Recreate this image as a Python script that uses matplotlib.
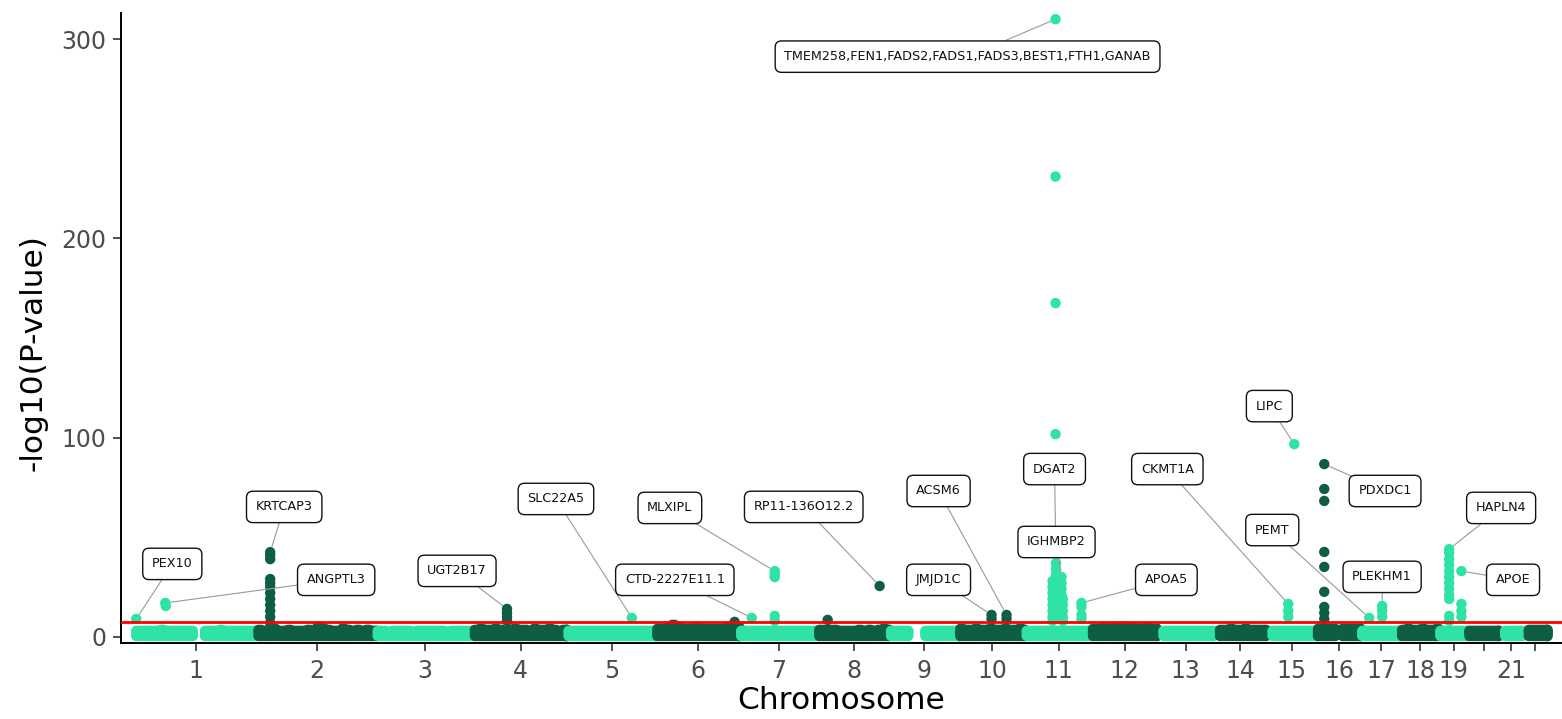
import numpy as np
import matplotlib
matplotlib.use("Agg")
import matplotlib.pyplot as plt

# ---------------- data ----------------
chrom_names = [str(i) for i in range(1, 23)]
chrom_len_mb = [249.25, 243.20, 198.02, 191.15, 180.92, 171.12, 159.14, 146.36,
                141.21, 135.53, 135.01, 133.85, 115.17, 107.35, 102.53, 90.35,
                81.20, 78.08, 59.13, 63.03, 48.13, 51.30]
tick_labels = ['1', '2', '3', '4', '5', '6', '7', '8', '9', '10', '11', '12',
               '13', '14', '15', '16', '17', '18', '19', '', '21', '']

# background: highest -log10(P) in successive 10 Mb bins of each chromosome (0 = no SNPs)
bg_top = [
    [3, 3, 3, 3, 3, 3.5, 3, 3, 3, 3, 3, 3, 0, 0, 3, 3, 3, 3.5, 3, 3, 3, 3, 3, 3, 3],
    [3.5, 3, 3.5, 4, 3, 3, 3.5, 3, 3, 3, 3.5, 3, 5, 4, 3.5, 3, 3, 4, 3.5, 3, 3.5, 3, 3.5, 3, 3],
    [3, 3, 2.5, 3, 3, 3, 3, 2.5, 3, 3, 3, 3, 3, 3, 2.5, 3, 3, 3, 3, 3],
    [3.5, 4, 3.5, 3.5, 4, 3.5, 3, 3.5, 4, 3.5, 3.5, 3, 4, 3.5, 3.5, 4, 3.5, 3, 3.5, 3.5],
    [3, 3, 3, 3, 3, 3, 3, 3, 3, 3, 3, 3, 3, 3, 3, 3, 3, 3, 3],
    [4, 4, 5, 6, 5, 4, 4, 4, 4.5, 4, 4, 4, 4, 4, 4.5, 4, 5, 4.5],
    [3, 3, 3, 3, 3, 3, 3, 3, 3, 3, 3, 3, 3, 3, 3, 3],
    [3.5, 3.5, 3.5, 3.5, 3, 3, 3, 3, 3.5, 3, 3.5, 3, 3.5, 4, 3.5],
    [3, 3, 3, 3, 0, 0, 0, 3, 3, 3, 3, 3, 3, 3, 3],
    [4, 3.5, 3.5, 4, 3.5, 3.5, 4, 3.5, 3.5, 4, 3.5, 3.5, 4, 3.5],
    [3, 3, 3, 3, 3, 3, 3, 3, 3, 3, 3, 3, 3, 3],
    [4, 4, 4.5, 4, 4.5, 5, 5, 4, 4.5, 4, 4, 4.5, 4, 4],
    [0, 3, 3, 3, 3, 3, 3, 3, 3, 3, 3, 3],
    [0, 3.5, 3.5, 4, 3.5, 3.5, 4, 3.5, 3.5, 3.5, 3.5],
    [0, 3, 3, 3, 3, 3, 3, 3, 3, 3, 3],
    [4, 4, 4, 4, 0, 4, 4, 4, 4, 4],
    [3, 3, 3, 3, 3, 3, 3, 3, 3],
    [3.5, 4, 3.5, 3.5, 4, 3.5, 3.5, 4],
    [3, 3, 3, 3, 3, 3],
    [3, 3, 3, 3, 3, 3, 3],
    [0, 3, 3, 3, 3],
    [0, 3.5, 3.5, 3.5, 3.5, 3.5],
]
bg_levels = [0.4, 1.5, 2.6]
bg_offsets = [2.5, 7.5]

# significant SNPs: chromosome, position (Mb), -log10(P)
sig_chr = ([1, 1, 1] +
           [2] * 12 +
           [4] * 4 +
           [5] +
           [6] +
           [7] * 6 +
           [8] * 2 +
           [10] * 4 +
           [11] * 4 + [11] * 3 + [11] * 4 + [11] * 8 + [11] * 5 + [11] * 5 + [11] * 4 +
           [15] * 4 +
           [16] * 9 +
           [17] * 4 +
           [19] * 12 + [19] * 4)
sig_pos = ([2.3, 61.5, 62.5] +
           [26.2] * 12 +
           [67.9] * 4 +
           [131.4] +
           [160.0] +
           [23.9, 70.7, 70.7, 70.7, 70.7, 70.7] +
           [19.5, 125.5] +
           [66.1, 66.1, 96.7, 96.7] +
           [61.1] * 4 + [62.0] * 3 + [73.3] * 4 + [55.0] * 8 + [66.0] * 5 + [76.0] * 5 +
           [114.0] * 4 +
           [44.3, 44.3, 44.3, 56.6] +
           [15.2] * 9 +
           [16.5, 43.0, 43.0, 43.0] +
           [20.3] * 12 + [45.3] * 4)
sig_val = ([9.0, 17.0, 15.5] +
           [42.5, 41, 39, 29, 27, 25, 22, 19, 16, 13, 10, 7] +
           [14, 12, 10, 8] +
           [9.5] +
           [7.5] +
           [9.5, 33, 31.5, 30, 10.5, 8] +
           [8.5, 25.5] +
           [11, 9, 11, 9] +
           [310, 231, 167.5, 101.7] + [37, 34, 31] + [30, 27, 24, 21] +
           [28, 25, 22, 19, 16, 13, 10, 8] + [26, 22, 18, 14, 10] + [19, 16, 13, 10, 8] +
           [17, 15, 11, 9] +
           [16.5, 13, 10, 96.7] +
           [86.7, 74.2, 68.2, 42.6, 35.1, 22.6, 15, 12, 9] +
           [9.5, 15.5, 13, 10] +
           [44, 42, 39, 36, 33, 30, 27, 24, 21, 19, 10.5, 8] + [33, 16.5, 13, 10])

# gene labels and the SNP (chromosome, Mb, -log10 P) they point to
lab_text = ["PEX10", "ANGPTL3", "KRTCAP3", "UGT2B17", "SLC22A5", "CTD-2227E11.1",
            "MLXIPL", "RP11-136O12.2", "JMJD1C", "ACSM6",
            "TMEM258,FEN1,FADS2,FADS1,FADS3,BEST1,FTH1,GANAB",
            "DGAT2", "IGHMBP2", "APOA5", "CKMT1A", "LIPC", "PDXDC1", "PEMT",
            "PLEKHM1", "HAPLN4", "APOE"]
lab_chr = [1, 1, 2, 4, 5, 7, 7, 8, 10, 10, 11, 11, 11, 11, 15, 15, 16, 17, 17, 19, 19]
lab_pos = [2.3, 61.5, 26.2, 67.9, 131.4, 23.9, 70.7, 125.5, 66.1, 96.7, 61.1,
           62.0, 73.3, 114.0, 44.3, 56.6, 15.2, 16.5, 43.0, 20.3, 45.3]
lab_val = [9.0, 17.0, 42.5, 14, 9.5, 9.5, 33, 25.5, 11, 11, 310,
           37, 30, 17, 16.5, 96.7, 86.7, 9.5, 15.5, 44, 33]
# repelled label box centres (genome Mb, -log10 P)
lab_box = [(75.8, 36.6), (410, 28.6), (304, 65.2), (656.5, 33.1), (858.2, 69.2),
           (1100.6, 28.6), (1090.5, 64.7), (1363.5, 65.2), (1638.5, 28.6),
           (1638.5, 73.2), (1697.6, 291.2), (1875, 84.2), (1879, 47.6),
           (2103, 28.6), (2105, 84.2), (2313, 115.8), (2549, 73.2), (2319, 53.6),
           (2543, 30.1), (2785.7, 64.7), (2810, 28.6)]

threshold = -np.log10(5e-8)

# ---------------- build ----------------
LIGHT = '#2ee3a3'
DARK = '#0d5e45'
starts = np.concatenate([[0], np.cumsum(chrom_len_mb)[:-1]])
total = float(np.sum(chrom_len_mb))
centers = starts + np.array(chrom_len_mb) / 2

xs, ys, cs = [], [], []
for i, tops in enumerate(bg_top):
    col = LIGHT if (i % 2 == 0) else DARK
    for b, v in enumerate(tops):
        if v <= 0:
            continue
        for off in bg_offsets:
            p = min(b * 10 + off, chrom_len_mb[i] - 1)
            for lv in bg_levels + [v]:
                xs.append(starts[i] + p)
                ys.append(min(lv, v))
                cs.append(col)
    for c, p, v in zip(sig_chr, sig_pos, sig_val):
        if c == i + 1:
            xs.append(starts[i] + p)
            ys.append(v)
            cs.append(col)

fig = plt.figure(figsize=(15.62, 7.19), dpi=100)
ax = fig.add_axes([121 / 1562, 76 / 719, 1 - 121 / 1562, 630 / 719])
ax.scatter(xs, ys, s=56, c=cs, linewidths=0, zorder=2)
ax.axhline(threshold, color='#ff0000', lw=2.0, zorder=3)

for t, c, p, v, (bx, by) in zip(lab_text, lab_chr, lab_pos, lab_val, lab_box):
    ax.annotate(t, xy=(starts[c - 1] + p, v), xytext=(bx, by),
                textcoords='data', ha='center', va='center', fontsize=9.2,
                color='#111111', zorder=5,
                bbox=dict(boxstyle='round,pad=0.72,rounding_size=0.5',
                          fc='white', ec='#111111', lw=1.0),
                arrowprops=dict(arrowstyle='-', color='#9a9a9a', lw=0.8,
                                shrinkA=0, shrinkB=4))

ax.set_xlim(-0.01 * total, 1.01 * total)
ax.set_ylim(-3.1, 313.1)
ax.set_xticks(centers)
ax.set_xticklabels(tick_labels)
ax.set_yticks([0, 100, 200, 300])
for s in ['top', 'right']:
    ax.spines[s].set_visible(False)
for s in ['left', 'bottom']:
    ax.spines[s].set_linewidth(1.4)
    ax.spines[s].set_color('black')
ax.tick_params(axis='both', length=5.5, width=1.2, color='#333333',
               labelsize=17, labelcolor='#4d4d4d')
ax.tick_params(axis='x', pad=6)
ax.tick_params(axis='y', pad=5)
ax.set_xlabel('Chromosome', fontsize=22.5, color='black')
ax.set_ylabel('-log10(P-value)', fontsize=22.5, color='black')
ax.xaxis.set_label_coords(0.5, (643 - 686) / 630)
ax.yaxis.set_label_coords((48 - 121) / 1441, (643 - 353) / 630)

fig.savefig('out.png', dpi=100)
